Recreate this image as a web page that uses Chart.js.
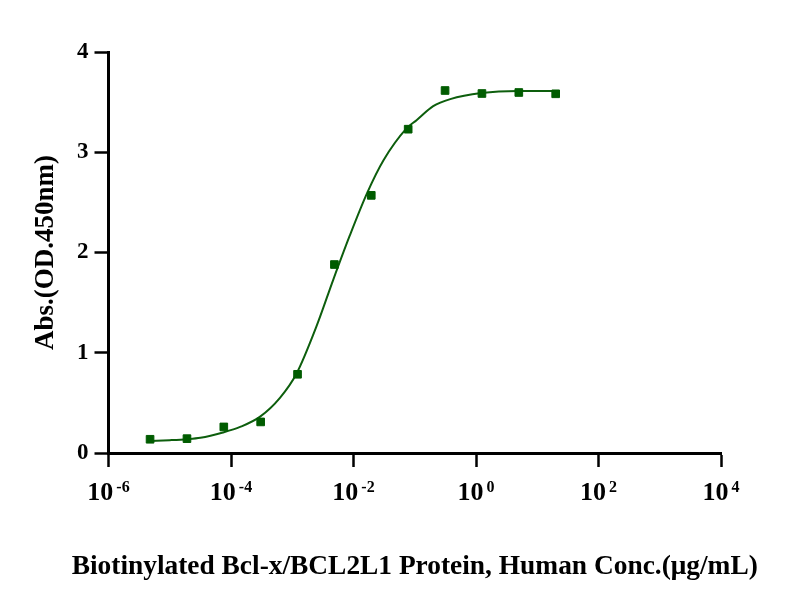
<!DOCTYPE html>
<html>
<head>
<meta charset="utf-8">
<script src="https://cdn.jsdelivr.net/npm/chart.js@4.4.1/dist/chart.umd.min.js"></script>
<style>
  html, body { margin: 0; padding: 0; background: #fff; }
  #wrap { width: 806px; height: 610px; position: relative; }
</style>
</head>
<body>
<div id="wrap"><canvas id="grafico"></canvas></div>
<script>
// ============================
// DADOS
// ============================
const concentracoes = [4.77e-6, 1.91e-5, 7.63e-5, 3.05e-4, 1.22e-3, 4.88e-3, 0.0195, 0.0781, 0.3125, 1.25, 5, 20];
const absorbancias  = [0.137, 0.143, 0.26, 0.31, 0.785, 1.88, 2.57, 3.23, 3.616, 3.586, 3.596, 3.583];

// curva ajustada (pontos lidos sobre a linha do gráfico)
const curvaConc = [4.77e-6, 1e-5, 1.9e-5, 3.16e-5, 7.4e-5, 1.41e-4, 2.95e-4, 6.3e-4, 1.17e-3, 2.51e-3, 4.68e-3, 8.71e-3, 0.0166, 0.0309, 0.0741, 0.107, 0.2, 0.38, 1.23, 4.9, 20];
const curvaAbs  = [0.12, 0.128, 0.138, 0.152, 0.205, 0.26, 0.36, 0.55, 0.79, 1.27, 1.73, 2.17, 2.59, 2.92, 3.24, 3.32, 3.46, 3.53, 3.59, 3.61, 3.61];

const expoentesX = [-6, -4, -2, 0, 2, 4];
const ticksY = [0, 1, 2, 3, 4];

const tituloX = 'Biotinylated Bcl-x/BCL2L1 Protein, Human Conc.(\u03bcg/mL)';
const tituloY = 'Abs.(OD.450nm)';

const FONTE = "'Liberation Serif', 'Times New Roman', serif";
const VERDE = '#005c00';
const VERDE_LINHA = '#0d5e0d';

// plugin: rótulos do eixo X (10 com expoente sobrescrito) e título do eixo X
const rotulosPotencia = {
    id: 'rotulosPotencia',
    afterDraw(chart) {
        const ctx = chart.ctx;
        const xs = chart.scales.x;
        const area = chart.chartArea;
        ctx.save();
        ctx.fillStyle = '#000';
        ctx.textBaseline = 'alphabetic';
        ctx.textAlign = 'left';
        expoentesX.forEach(e => {
            const px = xs.getPixelForValue(Math.pow(10, e));
            const base = '10';
            const sup = String(e);
            ctx.font = 'bold 26px ' + FONTE;
            const w1 = ctx.measureText(base).width;
            ctx.font = 'bold 16px ' + FONTE;
            const w2 = ctx.measureText(sup).width;
            const gap = 3;
            const inicio = px - (w1 + gap + w2) / 2;
            ctx.font = 'bold 26px ' + FONTE;
            ctx.fillText(base, inicio, 500);
            ctx.font = 'bold 16px ' + FONTE;
            ctx.fillText(sup, inicio + w1 + gap, 492);
        });

        // título do eixo X (desenhado aqui para não ser comprimido na largura da área)
        ctx.textAlign = 'center';
        ctx.textBaseline = 'alphabetic';
        ctx.font = 'bold 27.4px ' + FONTE;
        ctx.fillText(tituloX, (area.left + area.right) / 2, 574);
        ctx.restore();
    }
};

const ctx = document.getElementById('grafico').getContext('2d');
new Chart(ctx, {
    type: 'scatter',
    data: {
        datasets: [
            {
                label: 'Pontos',
                data: concentracoes.map((c, i) => ({ x: c, y: absorbancias[i] })),
                backgroundColor: VERDE,
                borderColor: VERDE,
                borderWidth: 1,
                pointStyle: 'rect',
                pointRadius: 5.4,
                showLine: false
            },
            {
                label: 'Ajuste',
                data: curvaConc.map((c, i) => ({ x: c, y: curvaAbs[i] })),
                borderColor: VERDE_LINHA,
                borderWidth: 2,
                pointRadius: 0,
                showLine: true,
                fill: false,
                cubicInterpolationMode: 'monotone'
            }
        ]
    },
    options: {
        responsive: true,
        maintainAspectRatio: false,
        animation: false,
        devicePixelRatio: 1,
        layout: { padding: { left: 0, right: 85, top: 52, bottom: 0 } },
        plugins: {
            legend: { display: false },
            tooltip: { enabled: false }
        },
        scales: {
            x: {
                type: 'logarithmic',
                min: 1e-6,
                max: 1e4,
                afterBuildTicks: s => { s.ticks = expoentesX.map(e => ({ value: Math.pow(10, e) })); },
                afterFit: s => { s.height = 157; },
                ticks: { display: false },
                grid: { display: true, drawOnChartArea: false, drawTicks: true, tickLength: 14, tickWidth: 2.5, tickColor: '#000' },
                border: { display: true, color: '#000', width: 3 },
                title: { display: false }
            },
            y: {
                min: 0,
                max: 4,
                afterBuildTicks: s => { s.ticks = ticksY.map(v => ({ value: v })); },
                afterFit: s => { s.width = 108.5; },
                ticks: {
                    color: '#000',
                    padding: 6,
                    font: { family: FONTE, size: 23, weight: 'bold' }
                },
                grid: { display: true, drawOnChartArea: false, drawTicks: true, tickLength: 14, tickWidth: 2.5, tickColor: '#000' },
                border: { display: true, color: '#000', width: 3 },
                title: {
                    display: true,
                    text: tituloY,
                    color: '#000',
                    font: { family: FONTE, size: 27, weight: 'bold' },
                    padding: { top: 30, bottom: 0 }
                }
            }
        }
    },
    plugins: [rotulosPotencia]
});
</script>
</body>
</html>
